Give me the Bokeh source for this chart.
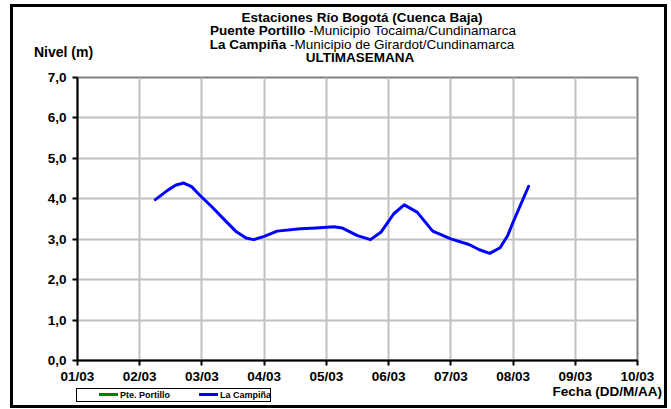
import pandas as pd
from bokeh.plotting import figure
from bokeh.layouts import column
from bokeh.models import (ColumnDataSource, FixedTicker, DatetimeTickFormatter, Div, Range1d)
from bokeh.embed import file_html
from bokeh.resources import INLINE

# ---------------- data ----------------
campina_time = [
    "2024-03-02 06:00", "2024-03-02 11:00", "2024-03-02 14:00", "2024-03-02 17:00",
    "2024-03-02 20:00", "2024-03-02 23:00", "2024-03-03 04:00", "2024-03-03 09:00",
    "2024-03-03 13:00", "2024-03-03 17:00", "2024-03-03 20:00", "2024-03-04 00:00",
    "2024-03-04 05:00", "2024-03-04 14:00", "2024-03-04 20:00", "2024-03-05 03:00",
    "2024-03-05 06:00", "2024-03-05 12:00", "2024-03-05 17:00", "2024-03-05 21:00",
    "2024-03-06 02:00", "2024-03-06 06:00", "2024-03-06 11:00", "2024-03-06 17:00",
    "2024-03-07 00:00", "2024-03-07 07:00", "2024-03-07 11:00", "2024-03-07 15:00",
    "2024-03-07 19:00", "2024-03-07 22:00", "2024-03-08 00:00", "2024-03-08 06:00",
]
campina_level = [
    3.98, 4.22, 4.34, 4.39,
    4.30, 4.10, 3.79, 3.46,
    3.20, 3.03, 2.99, 3.07,
    3.20, 3.26, 3.28, 3.31,
    3.28, 3.09, 2.99, 3.17,
    3.63, 3.85, 3.67, 3.20,
    3.01, 2.87, 2.74, 2.65,
    2.79, 3.10, 3.42, 4.31,
]
portillo_time = []
portillo_level = []

series_names = ["Pte. Portillo", "La Campiña"]
series_colors = ["#008000", "#0000FF"]

x_tick_dates = ["2024-03-01", "2024-03-02", "2024-03-03", "2024-03-04", "2024-03-05",
                "2024-03-06", "2024-03-07", "2024-03-08", "2024-03-09", "2024-03-10"]
y_ticks = [0, 1, 2, 3, 4, 5, 6, 7]
y_tick_labels = ["0,0", "1,0", "2,0", "3,0", "4,0", "5,0", "6,0", "7,0"]

title_line1 = "Estaciones Río Bogotá (Cuenca Baja)"
line2_bold, line2_reg = "Puente Portillo", " -Municipio Tocaima/Cundinamarca"
line3_bold, line3_reg = "La Campiña", " -Municipio de Girardot/Cundinamarca"
title_line4 = "ULTIMASEMANA"
y_title = "Nivel (m)"
x_title = "Fecha (DD/M/AA)"

FONT = "Liberation Sans"

# ---------------- header (titles) ----------------
def span(x, y, html, center=True, weight="bold", size=13.5):
    tr = "translate(-50%,-50%)" if center else "translate(0,-50%)"
    return (f'<span style="position:absolute;left:{x}px;top:{y}px;transform:{tr};'
            f'font-weight:{weight};font-size:{size}px;white-space:nowrap;line-height:1;">'
            f'{html}</span>')

head_html = (
    f'<div style="position:relative;width:651px;height:60px;font-family:\'{FONT}\';color:black;">'
    + span(349, 10.5, title_line1)
    + span(350, 24, f'<b>{line2_bold}</b><span style="font-weight:normal">{line2_reg}</span>')
    + span(349, 37.5, f'<b>{line3_bold}</b><span style="font-weight:normal">{line3_reg}</span>')
    + span(347, 51, title_line4)
    + span(21, 45, y_title, center=False, size=14)
    + '</div>'
)
header = Div(text=head_html, width=651, height=60, margin=0)

# ---------------- main figure ----------------
def to_ms(s):
    return pd.Timestamp(s).value / 1e6

xt = [to_ms(d) for d in x_tick_dates]

p = figure(width=651, height=319, output_backend="svg", toolbar_location=None,
           x_axis_type="datetime",
           x_range=Range1d(xt[0], xt[-1]), y_range=Range1d(0, 7),
           min_border_left=64, min_border_right=27, min_border_top=10, min_border_bottom=26,
           margin=0)
p.background_fill_color = "white"
p.border_fill_color = "white"
p.outline_line_color = "#808080"
p.outline_line_width = 2

src_p = ColumnDataSource(dict(t=pd.to_datetime(portillo_time), v=portillo_level))
src_c = ColumnDataSource(dict(t=pd.to_datetime(campina_time), v=campina_level))
p.line("t", "v", source=src_p, line_color=series_colors[0], line_width=3)
p.line("t", "v", source=src_c, line_color=series_colors[1], line_width=3,
       line_join="round", line_cap="round")

p.xaxis.ticker = FixedTicker(ticks=xt)
p.xaxis.formatter = DatetimeTickFormatter(days="%d/%m", months="%d/%m", hours="%d/%m")
p.yaxis.ticker = FixedTicker(ticks=y_ticks)
p.yaxis.major_label_overrides = {t: l for t, l in zip(y_ticks, y_tick_labels)}
for ax in (p.xaxis[0], p.yaxis[0]):
    ax.axis_line_color = "black"
    ax.axis_line_width = 2
    ax.major_tick_line_color = "black"
    ax.major_tick_line_width = 2
    ax.major_tick_out = 5
    ax.major_tick_in = 0
    ax.minor_tick_line_color = None
    ax.major_label_text_font = FONT
    ax.major_label_text_font_style = "bold"
    ax.major_label_text_font_size = "13.5px"
    ax.major_label_text_color = "black"
p.xaxis.major_label_standoff = 3
p.yaxis.major_label_standoff = 6

p.xgrid.ticker = FixedTicker(ticks=xt)
p.ygrid.ticker = FixedTicker(ticks=y_ticks)
for g in (p.xgrid[0], p.ygrid[0]):
    g.grid_line_color = "#c0c0c0"
    g.grid_line_width = 2

# ---------------- footer (legend + x title) ----------------
def legend_entry(x, color, name):
    return (f'<span style="position:absolute;left:{x}px;top:4px;width:19px;height:3px;'
            f'background:{color};"></span>'
            f'<span style="position:absolute;left:{x + 21}px;top:5.5px;transform:translate(0,-50%);'
            f'font-weight:bold;font-size:9px;white-space:nowrap;line-height:1;">{name}</span>')

foot_html = (
    f'<div style="position:relative;width:651px;height:19px;font-family:\'{FONT}\';color:black;">'
    '<div style="position:absolute;left:63px;top:2px;width:195px;height:14px;'
    'border:1.5px solid black;box-sizing:border-box;">'
    + legend_entry(22, series_colors[0], series_names[0])
    + legend_entry(122, series_colors[1], series_names[1])
    + '</div>'
    + f'<span style="position:absolute;right:2px;top:6px;transform:translate(0,-50%);'
      f'font-weight:bold;font-size:13.5px;white-space:nowrap;line-height:1;">{x_title}</span>'
    + '</div>'
)
footer = Div(text=foot_html, width=651, height=19, margin=0)

layout = column(header, p, footer, spacing=0,
                styles={"margin-left": "10px", "margin-top": "4px",
                        "border": "3px solid black", "background": "white"})

open("out.html", "w").write(file_html(layout, INLINE))
